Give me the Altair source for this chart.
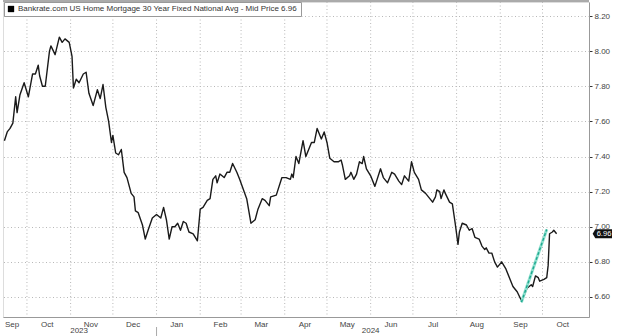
import altair as alt
import pandas as pd

SERIES = "Bankrate.com US Home Mortgage 30 Year Fixed National Avg - Mid Price 6.96"

dates = [
    "2023-09-15", "2023-09-17", "2023-09-19", "2023-09-21", "2023-09-23", "2023-09-24",
    "2023-09-26", "2023-09-29", "2023-10-02", "2023-10-05", "2023-10-07", "2023-10-09",
    "2023-10-10", "2023-10-12", "2023-10-14", "2023-10-17", "2023-10-18", "2023-10-21",
    "2023-10-24", "2023-10-26", "2023-10-28", "2023-10-31", "2023-11-02", "2023-11-03",
    "2023-11-05", "2023-11-07", "2023-11-10", "2023-11-12", "2023-11-14", "2023-11-17",
    "2023-11-20", "2023-11-22", "2023-11-24", "2023-11-26", "2023-11-28", "2023-11-30",
    "2023-12-01", "2023-12-03", "2023-12-05", "2023-12-07", "2023-12-09", "2023-12-11",
    "2023-12-14", "2023-12-16", "2023-12-17", "2023-12-19", "2023-12-22", "2023-12-24",
    "2023-12-26", "2023-12-29", "2024-01-01", "2024-01-04", "2024-01-06", "2024-01-08",
    "2024-01-10", "2024-01-12", "2024-01-14", "2024-01-16", "2024-01-18", "2024-01-20",
    "2024-01-22", "2024-01-24", "2024-01-27", "2024-01-30", "2024-02-01", "2024-02-03",
    "2024-02-06", "2024-02-08", "2024-02-10", "2024-02-12", "2024-02-13", "2024-02-15",
    "2024-02-18", "2024-02-20", "2024-02-22", "2024-02-24", "2024-02-27", "2024-02-29",
    "2024-03-05", "2024-03-08", "2024-03-11", "2024-03-13", "2024-03-16", "2024-03-18",
    "2024-03-21", "2024-03-22", "2024-03-26", "2024-03-30", "2024-04-02", "2024-04-05",
    "2024-04-06", "2024-04-07", "2024-04-09", "2024-04-11", "2024-04-14", "2024-04-16",
    "2024-04-20", "2024-04-22", "2024-04-24", "2024-04-27", "2024-04-29", "2024-05-01",
    "2024-05-03", "2024-05-06", "2024-05-09", "2024-05-11", "2024-05-12", "2024-05-14",
    "2024-05-17", "2024-05-18", "2024-05-20", "2024-05-22", "2024-05-24", "2024-05-26",
    "2024-05-27", "2024-05-29", "2024-06-01", "2024-06-04", "2024-06-08", "2024-06-10",
    "2024-06-13", "2024-06-16", "2024-06-18", "2024-06-21", "2024-06-23", "2024-06-25",
    "2024-06-28", "2024-06-30", "2024-07-02", "2024-07-05", "2024-07-07", "2024-07-10",
    "2024-07-12", "2024-07-15", "2024-07-17", "2024-07-18", "2024-07-20", "2024-07-21",
    "2024-07-23", "2024-07-24", "2024-07-27", "2024-07-29", "2024-07-31", "2024-08-02",
    "2024-08-03", "2024-08-05", "2024-08-08", "2024-08-10", "2024-08-12", "2024-08-14",
    "2024-08-17", "2024-08-19", "2024-08-21", "2024-08-22", "2024-08-24", "2024-08-26",
    "2024-08-28", "2024-08-30", "2024-09-02", "2024-09-05", "2024-09-08", "2024-09-10",
    "2024-09-13", "2024-09-16", "2024-09-18", "2024-09-20", "2024-09-23", "2024-09-24",
    "2024-09-26", "2024-09-28", "2024-09-29", "2024-10-02", "2024-10-04", "2024-10-05",
    "2024-10-06", "2024-10-08", "2024-10-09", "2024-10-11",
]
rates = [
    7.49, 7.54, 7.56, 7.59, 7.74, 7.65,
    7.75, 7.82, 7.74, 7.87, 7.87, 7.92,
    7.86, 7.80, 7.80, 8.00, 8.03, 7.98,
    8.08, 8.05, 8.07, 8.05, 7.97, 7.79,
    7.84, 7.82, 7.87, 7.88, 7.76, 7.69,
    7.78, 7.73, 7.81, 7.68, 7.60, 7.48,
    7.52, 7.42, 7.41, 7.44, 7.31, 7.28,
    7.19, 7.17, 7.09, 7.08, 7.01, 6.93,
    6.98, 7.05, 7.07, 7.05, 7.11, 7.04,
    6.93, 7.00, 7.00, 7.02, 6.98, 7.03,
    7.02, 6.97, 6.96, 6.92, 7.10, 7.11,
    7.15, 7.16, 7.27, 7.29, 7.25, 7.30,
    7.28, 7.31, 7.31, 7.36, 7.31, 7.27,
    7.16, 7.02, 7.04, 7.10, 7.16, 7.15,
    7.12, 7.17, 7.18, 7.28, 7.28, 7.27,
    7.30, 7.28, 7.40, 7.36, 7.49, 7.40,
    7.48, 7.48, 7.56, 7.50, 7.54, 7.48,
    7.39, 7.37, 7.37, 7.38, 7.35, 7.27,
    7.29, 7.31, 7.27, 7.30, 7.37, 7.36,
    7.40, 7.33, 7.29, 7.23, 7.33, 7.28,
    7.25, 7.31, 7.30, 7.26, 7.24, 7.29,
    7.26, 7.37, 7.31, 7.27, 7.21, 7.19,
    7.17, 7.14, 7.17, 7.21, 7.20, 7.16,
    7.21, 7.19, 7.14, 7.13, 7.02, 6.90,
    6.97, 7.02, 7.01, 6.98, 6.99, 6.94,
    6.93, 6.89, 6.87, 6.88, 6.85, 6.85,
    6.80, 6.77, 6.80, 6.76, 6.70, 6.66,
    6.63, 6.58, 6.61, 6.65, 6.67, 6.66,
    6.72, 6.71, 6.69, 6.70, 6.71, 6.78,
    6.96, 6.97, 6.98, 6.96,
]

last_date = ["2024-10-11"]
last_value = [6.96]
last_label = ["6.96"]

arrow_dates = ["2024-09-16", "2024-10-04"]
arrow_values = [6.57, 6.985]

month_starts = [
    "2023-10-01", "2023-11-01", "2023-12-01", "2024-01-01", "2024-02-01", "2024-03-01",
    "2024-04-01", "2024-05-01", "2024-06-01", "2024-07-01", "2024-08-01", "2024-09-01",
    "2024-10-01",
]
# (year, month) for mid-month labels Sep 2023 .. Oct 2024
label_months = [(2023, 9), (2023, 10), (2023, 11), (2023, 12), (2024, 1), (2024, 2),
                (2024, 3), (2024, 4), (2024, 5), (2024, 6), (2024, 7), (2024, 8),
                (2024, 9), (2024, 10)]
year_labels = ["2023", "2024"]
year_label_dates = ["2023-11-07", "2024-06-01"]
year_break = ["2024-01-01"]
y_ticks = [6.6, 6.8, 7.0, 7.2, 7.4, 7.6, 7.8, 8.0, 8.2]

W, H = 586, 315
FONT = "Liberation Sans"
GRID = "#b8b8b8"

main = pd.DataFrame({"date": dates, "rate": rates})
last = pd.DataFrame({"date": last_date, "rate": last_value, "label": last_label, "series": [SERIES]})
arrow = pd.DataFrame({"date": arrow_dates, "rate": arrow_values})
months = pd.DataFrame({"date": month_starts})
years = pd.DataFrame({"date": year_label_dates, "label": year_labels})
ybreak = pd.DataFrame({"date": year_break})

xscale = alt.Scale(
    type="utc",
    domain=[alt.DateTime(year=2023, month=9, date=14, utc=True),
            alt.DateTime(year=2024, month=11, date=3, utc=True)],
)
yscale = alt.Scale(domain=[6.486, 8.28], nice=False, zero=False)

xaxis = alt.Axis(
    values=[alt.DateTime(year=y, month=m, date=15, utc=True) for y, m in label_months],
    tickCount=40,
    labelExpr="utcFormat(datum.value, '%b')",
    title=None, grid=False, ticks=False, labelFlush=8, labelOverlap=False,
    labelFontSize=8, labelFont=FONT, labelColor="#444", labelPadding=3,
    domainColor="#999", domainWidth=1,
)
yaxis = alt.Axis(
    orient="right", values=y_ticks, tickCount=40, format=".2f", title=None,
    grid=True, gridColor=GRID, gridDash=[1, 2.5], gridWidth=1,
    tickSize=3, tickColor="#333", domainColor="#999", labelPadding=2,
    labelOverlap=False, labelFlush=False,
    labelFontSize=8, labelFont=FONT, labelColor="#444",
)

X = alt.X("date:T", scale=xscale, axis=xaxis)
Y = alt.Y("rate:Q", scale=yscale, axis=yaxis)

vgrid = alt.Chart(months).mark_rule(color=GRID, strokeDash=[1, 2.5], strokeWidth=1).encode(
    x=alt.X("date:T", scale=xscale)
)

topline = alt.Chart(months).mark_rule(color="#aaa", strokeWidth=1).encode(
    x=alt.value(0), x2=alt.value(W), y=alt.value(-1)
)

line = alt.Chart(main).mark_line(color="#1a1a1a", strokeWidth=1.4, strokeJoin="round").encode(x=X, y=Y)

arrow_base = alt.Chart(arrow).mark_line(color="#8fe0cf", strokeWidth=3).encode(
    x=alt.X("date:T", scale=xscale), y=alt.Y("rate:Q", scale=yscale)
)
arrow_dash = alt.Chart(arrow).mark_line(color="#1fa88f", strokeWidth=1.4, strokeDash=[3, 2]).encode(
    x=alt.X("date:T", scale=xscale), y=alt.Y("rate:Q", scale=yscale)
)

legend_layer = alt.Chart(last).mark_square(opacity=0, size=4).encode(
    x=alt.X("date:T", scale=xscale),
    y=alt.Y("rate:Q", scale=yscale),
    fill=alt.Fill("series:N", scale=alt.Scale(domain=[SERIES], range=["#000000"]),
                  legend=alt.Legend(
                      title=None, orient="none", legendX=1, legendY=0, padding=3,
                      strokeColor="#999", fillColor="white", symbolType="square",
                      symbolSize=40, symbolOpacity=1, symbolStrokeWidth=0,
                      labelFontSize=8, labelFont=FONT, labelColor="#333", labelLimit=600,
                      labelOffset=3,
                  )),
)

tag_shape = "M-1.15,0 L-0.85,-0.5 L1,-0.5 L1,0.5 L-0.85,0.5 Z"
tag = alt.Chart(last).mark_point(shape=tag_shape, filled=True, color="#111", size=324, opacity=1).encode(
    x=alt.value(W + 14), y=alt.Y("rate:Q", scale=yscale)
)
tag_text = alt.Chart(last).mark_text(color="white", fontSize=7.5, font=FONT, align="center", baseline="middle").encode(
    x=alt.value(W + 15), y=alt.Y("rate:Q", scale=yscale), text="label:N"
)

year_text = alt.Chart(years).mark_text(color="#444", fontSize=8, font=FONT, baseline="middle").encode(
    x=alt.X("date:T", scale=xscale), y=alt.value(H + 14), text="label:N"
)
year_sep = alt.Chart(ybreak).mark_rule(color="#aaa", strokeWidth=1).encode(
    x=alt.X("date:T", scale=xscale), y=alt.value(H + 10), y2=alt.value(H + 19)
)

chart = alt.layer(
    vgrid, topline, line, arrow_base, arrow_dash, legend_layer, tag, tag_text, year_text, year_sep
).properties(
    width=W, height=H,
    autosize=alt.AutoSizeParams(type="none"),
    padding={"left": 3, "top": 2, "right": 31, "bottom": 19},
).configure_view(stroke=None).configure(background="white")

chart.save("out.html", embed_options={"renderer": "svg", "actions": False})
